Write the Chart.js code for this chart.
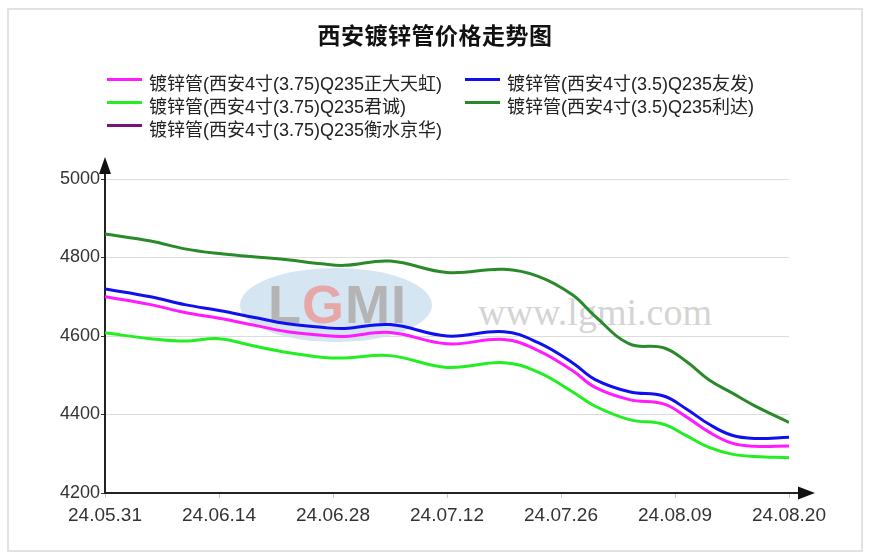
<!DOCTYPE html>
<html>
<head>
<meta charset="utf-8">
<script src="https://cdn.jsdelivr.net/npm/chart.js@4/dist/chart.umd.min.js"></script>
<style>
  html,body{margin:0;padding:0;background:#fff;}
  #wrap{position:relative;width:877px;height:560px;overflow:hidden;background:#fff;}
  #frame{position:absolute;left:7px;top:8px;width:856px;height:544px;border:2px solid #e2e2e2;box-sizing:border-box;}
  #title{position:absolute;left:0;width:870px;top:19px;text-align:center;font:bold 23px "Noto Sans CJK SC",sans-serif;letter-spacing:0.5px;color:#111;line-height:30px;}
  .lg{position:absolute;height:22px;line-height:22px;font:18px "Liberation Sans","Noto Sans CJK SC",sans-serif;color:#222;white-space:nowrap;}
  .lg i{position:absolute;left:0;top:9px;width:35px;height:3px;}
  .lg span{position:absolute;left:42px;top:0;}
  #wm1{position:absolute;left:240px;top:268px;width:192px;height:74px;border-radius:50%;background:#cfe0f0;opacity:0.85;}
  #wm1t{position:absolute;left:250px;top:268px;width:175px;text-align:center;font:bold 54px "Liberation Sans",sans-serif;color:#b4b4b4;letter-spacing:1px;line-height:72px;}
  #wm1t b{color:#e6a7a7;}
  #wm2{position:absolute;left:478px;top:290px;font:38px "Liberation Serif",serif;color:#d4d4d4;line-height:44px;}
  canvas{position:absolute;left:0;top:0;}
</style>
</head>
<body>
<div id="wrap">
  <div id="frame"></div>
  <div id="wm1"></div>
  <div id="wm1t">L<b>G</b>MI</div>
  <div id="wm2">www.lgmi.com</div>
  <canvas id="c" width="877" height="560"></canvas>
  <div id="title">西安镀锌管价格走势图</div>
  <div id="legend"></div>
</div>
<script>
// ---- data ----
const xLabels = ["24.05.31","24.06.14","24.06.28","24.07.12","24.07.26","24.08.09","24.08.20"];
const yTicks  = [4200,4400,4600,4800,5000];
const xIndex  = [0,4,7,10,13,16,19,21,25,30,35,38,41,43,46,49,51,53,55,57,60];
const seriesNames = [
  "镀锌管(西安4寸(3.75)Q235正大天虹)",
  "镀锌管(西安4寸(3.5)Q235友发)",
  "镀锌管(西安4寸(3.75)Q235君诚)",
  "镀锌管(西安4寸(3.5)Q235利达)",
  "镀锌管(西安4寸(3.75)Q235衡水京华)"
];
const zhengdaTianhong = [4700,4680,4660,4645,4628,4611,4602,4599,4609,4580,4591,4563,4512,4469,4438,4427,4394,4355,4327,4319,4320];
const youfa           = [4720,4700,4680,4665,4648,4631,4622,4619,4629,4600,4611,4583,4532,4489,4458,4447,4414,4375,4347,4339,4342];
const juncheng        = [4608,4593,4587,4593,4575,4558,4546,4544,4550,4520,4532,4508,4458,4421,4387,4375,4346,4316,4299,4293,4290];
const lida            = [4860,4842,4822,4810,4802,4794,4784,4780,4791,4762,4770,4752,4705,4650,4580,4570,4535,4488,4455,4422,4380];
const hengshuiJinghua = [];
const colors = ["#ff1aff","#1010ee","#22ee22","#2a8a2a","#7a127a"];
const seriesData = [zhengdaTianhong, youfa, juncheng, lida, hengshuiJinghua];

// ---- legend (HTML) ----
const legendPos = [[107,69],[465,69],[107,92],[465,92],[107,115]];
const lg = document.getElementById('legend');
seriesNames.forEach((n,i)=>{
  const d = document.createElement('div');
  d.className='lg';
  d.style.left = legendPos[i][0]+'px';
  d.style.top = legendPos[i][1]+'px';
  d.innerHTML = '<i style="background:'+colors[i]+'"></i><span>'+n+'</span>';
  lg.appendChild(d);
});

const datasets = seriesData.map((arr,i)=>({
  label: seriesNames[i],
  data: arr.map((v,j)=>({x:xIndex[j], y:v})),
  borderColor: colors[i],
  backgroundColor: colors[i],
  borderWidth: 3,
  pointRadius: 0,
  fill: false,
  tension: 0.4
}));

const arrows = {
  id:'arrows',
  afterDraw(chart){
    const ctx = chart.ctx, a = chart.chartArea;
    ctx.save();
    ctx.fillStyle = '#111';
    ctx.strokeStyle = '#222';
    ctx.lineWidth = 2;
    ctx.beginPath(); ctx.moveTo(a.left, a.top); ctx.lineTo(a.left, a.top-8); ctx.stroke();
    ctx.beginPath(); ctx.moveTo(a.left, a.top-22); ctx.lineTo(a.left-6, a.top-5); ctx.lineTo(a.left+6, a.top-5); ctx.closePath(); ctx.fill();
    ctx.beginPath(); ctx.moveTo(a.right, a.bottom); ctx.lineTo(a.right+12, a.bottom); ctx.stroke();
    ctx.beginPath(); ctx.moveTo(a.right+26, a.bottom); ctx.lineTo(a.right+9, a.bottom-6.5); ctx.lineTo(a.right+9, a.bottom+6.5); ctx.closePath(); ctx.fill();
    ctx.restore();
  }
};

new Chart(document.getElementById('c'), {
  type: 'line',
  data: { datasets },
  options: {
    responsive: false,
    animation: false,
    layout: { padding: { left: 0, right: 88, top: 179, bottom: 27 } },
    plugins: { legend: { display: false }, title: { display: false }, tooltip: { enabled: false } },
    scales: {
      x: {
        type: 'linear', min: 0, max: 60,
        afterFit(s){ s.height = 40; },
        border: { display: true, color: '#222', width: 2 },
        grid: { display: true, drawOnChartArea: false, drawTicks: true, tickLength: 5, tickColor: '#c8c8c8' },
        ticks: {
          stepSize: 10, padding: 6, color: '#333', maxRotation: 0, autoSkip: false,
          font: { family: 'Liberation Sans', size: 19 },
          callback: (v)=> xLabels[Math.round(v/10)]
        }
      },
      y: {
        min: yTicks[0], max: yTicks[yTicks.length-1],
        afterFit(s){ s.width = 105; },
        border: { display: true, color: '#222', width: 2 },
        grid: { color: '#dcdcdc', lineWidth: 1, drawTicks: true, tickLength: 4, tickColor: '#333' },
        ticks: {
          stepSize: 200, padding: 1, color: '#333',
          font: { family: 'Liberation Sans', size: 18 },
          callback: (v)=> String(v)
        }
      }
    }
  },
  plugins: [arrows]
});
</script>
</body>
</html>
